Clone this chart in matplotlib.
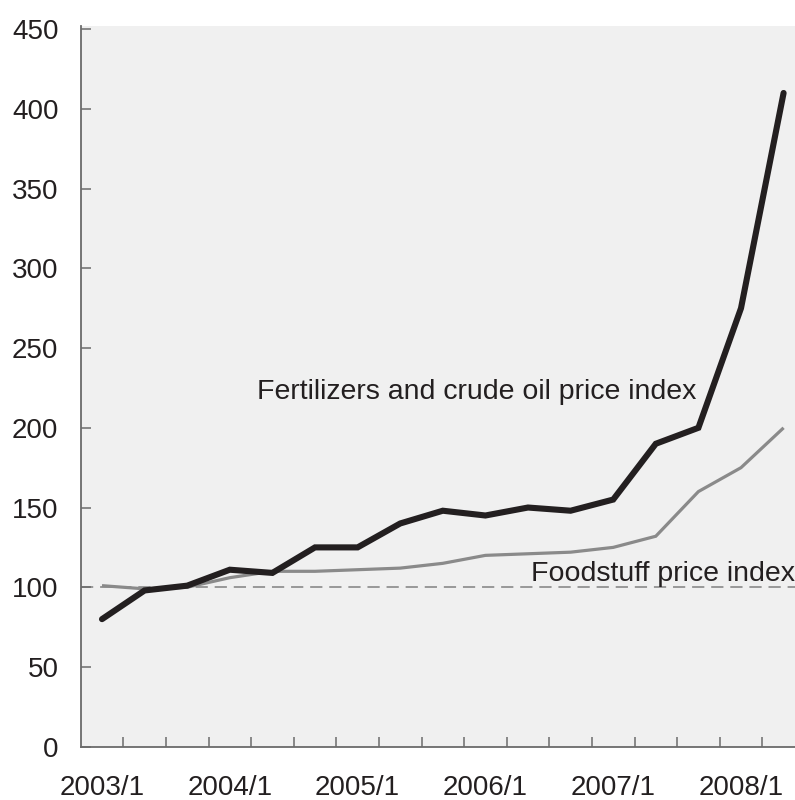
import matplotlib
matplotlib.use("Agg")
import matplotlib.pyplot as plt

# Data: every 4 months, 2003/1 .. 2008/5
periods = ["2003/1", "2003/5", "2003/9", "2004/1", "2004/5", "2004/9",
           "2005/1", "2005/5", "2005/9", "2006/1", "2006/5", "2006/9",
           "2007/1", "2007/5", "2007/9", "2008/1", "2008/5"]
fertilizer_oil = [80, 98, 101, 111, 109, 125, 125, 140, 148, 145, 150, 148,
                  155, 190, 200, 275, 410]
foodstuff = [101, 99, 100, 106, 110, 110, 111, 112, 115, 120, 121, 122,
             125, 132, 160, 175, 200]
baseline_value = 100
yticks = [0, 50, 100, 150, 200, 250, 300, 350, 400, 450]
label_periods = ["2003/1", "2004/1", "2005/1", "2006/1", "2007/1", "2008/1"]
fert_label = "Fertilizers and crude oil price index"
food_label = "Foodstuff price index"

plt.rcParams['font.family'] = ['Liberation Sans', 'DejaVu Sans']
txt = "#231f20"
axc = "#6b6b6b"

fig = plt.figure(figsize=(7.95, 8.0), dpi=100)
ax = fig.add_axes([80.7 / 795, 53.3 / 800, 1 - 80.7 / 795, (746.7 - 26) / 800])
ax.set_facecolor("#f0f0f0")

x = list(range(len(periods)))
ax.axhline(baseline_value, color="#808080", lw=1.1, dashes=(8, 4.5), zorder=1)
ax.plot(x, foodstuff, color="#8a8a8a", lw=2.3, solid_joinstyle="miter",
        solid_capstyle="butt", zorder=2)
ax.plot(x, fertilizer_oil, color=txt, lw=4.4, solid_joinstyle="miter",
        solid_capstyle="round", zorder=3)

ax.set_xlim(-0.5, -0.5 + (795 - 80.7) / 42.6)
ax.set_ylim(0, 452)

for s in ["top", "right"]:
    ax.spines[s].set_visible(False)
for s in ["left", "bottom"]:
    ax.spines[s].set_color(axc)
    ax.spines[s].set_linewidth(1.3)

ax.set_yticks(yticks)
ax.set_yticklabels([str(v) for v in yticks])
ax.tick_params(axis="y", direction="in", length=7, width=1.1, color=axc,
               labelsize=20, labelcolor=txt, pad=16)

# category boundaries as major ticks, labels at category centers (minor)
ax.set_xticks([i - 0.5 for i in range(1, len(periods))])
ax.set_xticklabels([])
ax.tick_params(axis="x", which="major", direction="in", length=7, width=1.1,
               color=axc)
ax.set_xticks([periods.index(p) for p in label_periods], minor=True)
ax.set_xticklabels(label_periods, minor=True)
ax.tick_params(axis="x", which="minor", direction="in", length=0,
               labelsize=20, labelcolor=txt, pad=20.5)

ax.text(3.645, 218, fert_label, fontsize=20.5, color=txt,
        ha="left", va="baseline", zorder=4)
ax.text(10.07, 104, food_label, fontsize=20.5, color=txt,
        ha="left", va="baseline", zorder=4)

fig.savefig("out.png", dpi=100)
